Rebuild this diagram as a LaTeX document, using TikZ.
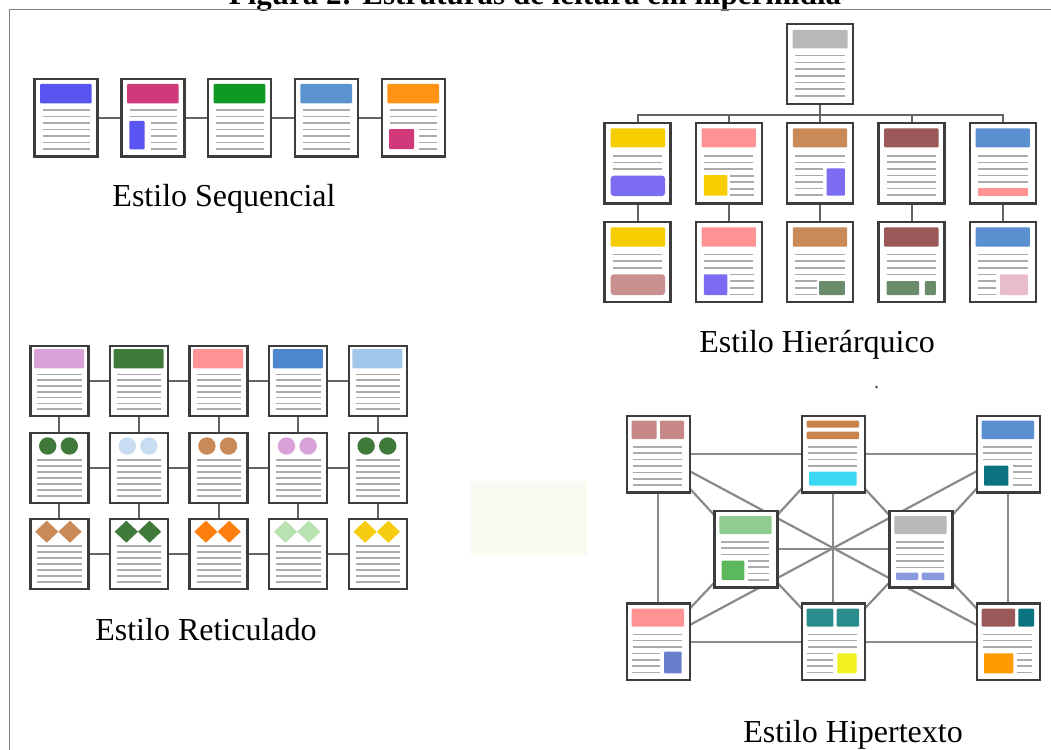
\documentclass[tikz,border=0pt]{standalone}
\usepackage{fontspec}
\setmainfont{Liberation Serif}
\usetikzlibrary{backgrounds}
\definecolor{boxc}{HTML}{3C3C3C}
\definecolor{tlc}{HTML}{ABABAB}
\definecolor{connc}{HTML}{646464}
\definecolor{xconnc}{HTML}{8A8A8A}
\definecolor{framec}{HTML}{7E7E7E}
\definecolor{sblue}{HTML}{5A55F0}
\definecolor{magen}{HTML}{D13A7A}
\definecolor{sgreen}{HTML}{0E9A22}
\definecolor{steel}{HTML}{5B93CF}
\definecolor{sorange}{HTML}{FF9414}
\definecolor{hgray}{HTML}{B8B8B8}
\definecolor{yel}{HTML}{F5CD00}
\definecolor{salm}{HTML}{FF9292}
\definecolor{tan}{HTML}{C98A58}
\definecolor{rosy}{HTML}{9A5858}
\definecolor{hblue}{HTML}{5A8FD0}
\definecolor{purp}{HTML}{7C6CF2}
\definecolor{mauve}{HTML}{C99090}
\definecolor{hgreen}{HTML}{6A8C6A}
\definecolor{pinklt}{HTML}{E8BCCC}
\definecolor{plum}{HTML}{D8A2D8}
\definecolor{dgreen}{HTML}{3F7A3B}
\definecolor{lblue}{HTML}{A0C6EA}
\definecolor{rblue}{HTML}{4E86CC}
\definecolor{cblue}{HTML}{C8DCF2}
\definecolor{orng}{HTML}{FF7F0E}
\definecolor{lgreen}{HTML}{B8E2B0}
\definecolor{gold}{HTML}{F5CC10}
\definecolor{rose}{HTML}{C98888}
\definecolor{brown}{HTML}{C8844A}
\definecolor{cyan2}{HTML}{3CD8F2}
\definecolor{teal2}{HTML}{0B7280}
\definecolor{lgrn}{HTML}{8FCC8F}
\definecolor{grn}{HTML}{5CB85C}
\definecolor{peri}{HTML}{8A9AE0}
\definecolor{blue2}{HTML}{6A7FCC}
\definecolor{teal3}{HTML}{2A8C8C}
\definecolor{yell}{HTML}{F2F220}
\definecolor{orange3}{HTML}{FF9A00}
\definecolor{faint}{HTML}{FAFAF3}
\newcommand\tls[5]{\foreach \k in {1,...,#4}{\draw[tline] (#1,{#3+(\k-1)*#5}) -- (#2,{#3+(\k-1)*#5});}}
\begin{document}
\begin{tikzpicture}[x=1pt,y=-1pt,
  pg/.style={draw=boxc, line width=2.4pt, fill=white, inner sep=0pt, outer sep=0pt, rectangle},
  seqpg/.style={pg, minimum width=63pt, minimum height=77pt},
  hpg/.style={pg, minimum width=66pt, minimum height=80pt},
  rpg/.style={pg, minimum width=58pt, minimum height=70pt},
  xpg/.style={pg, minimum width=63pt, minimum height=76.5pt},
  tline/.style={draw=tlc, line width=1.6pt},
  conn/.style={draw=connc, line width=2pt},
  xconn/.style={draw=xconnc, line width=2.2pt},
  lbl/.style={font=\fontsize{32}{38}\selectfont, inner sep=0pt, anchor=base},
  blk/.style={rounded corners=1pt}]
\useasboundingbox (0,0) rectangle (1051,749);
\begin{pgfonlayer}{background}
\fill[white] (0,0) rectangle (1051,749);
\fill[faint] (470,481) rectangle (587,555);
\end{pgfonlayer}
\fill[boxc] (876.5,387) circle (1.3);
% caption (clipped at top, as in the reference) and frame
\node[font=\bfseries\fontsize{31}{36}\selectfont, inner sep=0pt, anchor=base] (cap) at (535,5) {Figura 2: Estruturas de leitura em hipermídia};
\draw[draw=framec, line width=1.2pt] (1060,9.5) -- (9.5,9.5) -- (9.5,760);

% ---------- Sequencial ----------
\node[seqpg] (s1) at (65.8,117.8) {};
\node[seqpg] (s2) at (152.8,117.8) {};
\node[seqpg] (s3) at (239.5,117.8) {};
\node[seqpg] (s4) at (326.2,117.8) {};
\node[seqpg] (s5) at (413.2,117.8) {};
\begin{pgfonlayer}{background}
\draw[conn] (s1) -- (s2) (s2) -- (s3) (s3) -- (s4) (s4) -- (s5);
\end{pgfonlayer}
\begin{scope}[shift={(33.3,78.3)}]
\fill[sblue,blk] (6.7,5.7) rectangle (58.4,25);
\tls{9.4}{56.7}{31.7}{7}{6.5}
\end{scope}
\begin{scope}[shift={(120.3,78.3)}]
\fill[magen,blk] (6.7,5.7) rectangle (58.4,25);
\tls{9.4}{56.7}{31.7}{2}{6.5}
\fill[sblue,blk] (9,42.7) rectangle (24.3,71);
\tls{31}{56.7}{44.7}{5}{6.5}
\end{scope}
\begin{scope}[shift={(207,78.3)}]
\fill[sgreen,blk] (6.7,5.7) rectangle (58.4,25);
\tls{9.4}{56.7}{31.7}{7}{6.5}
\end{scope}
\begin{scope}[shift={(293.7,78.3)}]
\fill[steel,blk] (6.7,5.7) rectangle (58.4,25);
\tls{9.4}{56.7}{31.7}{7}{6.5}
\end{scope}
\begin{scope}[shift={(380.7,78.3)}]
\fill[sorange,blk] (6.7,5.7) rectangle (58.4,25);
\tls{9.4}{56.7}{31.7}{3}{6.5}
\fill[magen,blk] (8.3,50.7) rectangle (33.3,70.7);
\tls{38.3}{56}{51.2}{4}{6.5}
\end{scope}
\node[lbl] (ls) at (224,206) {Estilo Sequencial};

% ---------- Hierarquico ----------
\node[hpg] (ht) at (820,64.3) {};
\node[hpg] (h1) at (637.6,163.3) {};
\node[hpg] (h2) at (728.9,163.3) {};
\node[hpg] (h3) at (820.2,163.3) {};
\node[hpg] (h4) at (911.5,163.3) {};
\node[hpg] (h5) at (1002.8,163.3) {};
\node[hpg] (h1b) at (637.6,262) {};
\node[hpg] (h2b) at (728.9,262) {};
\node[hpg] (h3b) at (820.2,262) {};
\node[hpg] (h4b) at (911.5,262) {};
\node[hpg] (h5b) at (1002.8,262) {};
\coordinate (bus) at (820,115);
\begin{pgfonlayer}{background}
\foreach \n in {1,...,5}{
  \draw[conn] (ht.south) -- (bus) -| (h\n.north);
  \draw[conn] (h\n) -- (h\n b);
}
\end{pgfonlayer}
\begin{scope}[shift={(785.7,23.3)}]
\fill[hgray,blk] (7,6.7) rectangle (62,25);
\tls{9.3}{59.3}{32.4}{7}{6.7}
\end{scope}
\begin{scope}[shift={(603.3,122.3)}]
\fill[yel,blk] (7.4,6) rectangle (61.7,25);
\tls{10}{58.4}{33.4}{3}{6.65}
\fill[purp,rounded corners=3pt] (7.4,53.4) rectangle (61.7,73.7);
\end{scope}
\begin{scope}[shift={(694.6,122.3)}]
\fill[salm,blk] (7,6) rectangle (61.3,25);
\tls{9.3}{58.3}{33.4}{3}{6.65}
\fill[yel,blk] (9.3,52.7) rectangle (32.7,73.4);
\tls{35.5}{59}{53.4}{4}{6.5}
\end{scope}
\begin{scope}[shift={(785.9,122.3)}]
\fill[tan,blk] (7,6) rectangle (61.3,25);
\tls{9}{59}{33.4}{2}{6.65}
\tls{9}{37.3}{46.7}{5}{6.55}
\fill[purp,blk] (40.7,46) rectangle (59,73.4);
\end{scope}
\begin{scope}[shift={(877.2,122.3)}]
\fill[rosy,blk] (7,6) rectangle (61.3,25);
\tls{9.3}{58.5}{33.4}{7}{6.55}
\end{scope}
\begin{scope}[shift={(968.5,122.3)}]
\fill[hblue,blk] (7,6) rectangle (61.3,25);
\tls{9.4}{59.4}{33.4}{5}{6.6}
\fill[salm] (9.4,66) rectangle (59.4,73.4);
\end{scope}
\begin{scope}[shift={(603.3,221)}]
\fill[yel,blk] (7.4,6.3) rectangle (61.7,25.7);
\tls{10}{58.4}{33.3}{3}{6.7}
\fill[mauve,rounded corners=3pt] (7.4,53.3) rectangle (61.7,74);
\end{scope}
\begin{scope}[shift={(694.6,221)}]
\fill[salm,blk] (7,6.3) rectangle (61.3,25.7);
\tls{9.3}{58.3}{33.3}{3}{6.7}
\fill[purp,blk] (9.3,53.3) rectangle (32.7,74);
\tls{35.5}{59}{53.3}{4}{6.7}
\end{scope}
\begin{scope}[shift={(785.9,221)}]
\fill[tan,blk] (7,6.3) rectangle (61.3,25.7);
\tls{9}{59}{33.3}{4}{6.7}
\tls{9}{30.7}{60}{3}{6.7}
\fill[hgreen,blk] (33.3,60) rectangle (59,74);
\end{scope}
\begin{scope}[shift={(877.2,221)}]
\fill[rosy,blk] (7,6.3) rectangle (61.3,25.7);
\tls{9.3}{58.5}{33.3}{4}{6.7}
\fill[hgreen,blk] (9.4,60) rectangle (42,74);
\fill[hgreen,blk] (47.7,60) rectangle (58.7,74);
\end{scope}
\begin{scope}[shift={(968.5,221)}]
\fill[hblue,blk] (7,6.3) rectangle (61.3,25.7);
\tls{9.4}{59.4}{33.3}{3}{6.7}
\tls{9.4}{27.7}{53.3}{4}{6.7}
\fill[pinklt,blk] (31.7,53.3) rectangle (59.4,74);
\end{scope}
\node[lbl] (lh) at (817,352) {Estilo Hierárquico};

% ---------- Reticulado ----------
\foreach \i/\ca/\cb/\cc in {0/plum/dgreen/tan,1/dgreen/cblue/dgreen,2/salm/tan/orng,3/rblue/plum/lgreen,4/lblue/dgreen/gold}{
  \node[rpg] (ra\i) at ({59.3+79.6*\i},381) {};
  \node[rpg] (rb\i) at ({59.3+79.6*\i},467.7) {};
  \node[rpg] (rc\i) at ({59.3+79.6*\i},553.7) {};
  \begin{scope}[shift={({29.3+79.6*\i},345)}]
    \fill[\ca,blk] (4.7,4) rectangle (54.7,23.3);
    \tls{8}{52.4}{29.3}{7}{5.8}
  \end{scope}
  \begin{scope}[shift={({29.3+79.6*\i},431.7)}]
    \fill[\cb] (18.4,14.3) circle (8.7);
    \fill[\cb] (40,14.3) circle (8.7);
    \tls{8}{52.4}{28.3}{7}{6}
  \end{scope}
  \begin{scope}[shift={({29.3+79.6*\i},517.7)}]
    \fill[\cc] (17.4,3) -- (29,14) -- (17.4,25) -- (5.8,14) -- cycle;
    \fill[\cc] (40.7,3) -- (52.3,14) -- (40.7,25) -- (29.1,14) -- cycle;
    \tls{8}{52.4}{28.3}{7}{5.95}
  \end{scope}
}
\begin{pgfonlayer}{background}
\foreach \i in {0,...,4}{
  \draw[conn] (ra\i) -- (rb\i) (rb\i) -- (rc\i);
}
\foreach \i/\j in {0/1,1/2,2/3,3/4}{
  \draw[conn] (ra\i) -- (ra\j) (rb\i) -- (rb\j) (rc\i) -- (rc\j);
}
\end{pgfonlayer}
\node[lbl] (lr) at (206,640) {Estilo Reticulado};

% ---------- Hipertexto ----------
\node[xpg] (tl) at (658.2,454.3) {};
\node[xpg] (tm) at (833.2,454.3) {};
\node[xpg] (tr) at (1008.2,454.3) {};
\node[xpg] (ml) at (745.8,549.3) {};
\node[xpg] (mr) at (920.8,549.3) {};
\node[xpg] (bl) at (658.2,641.9) {};
\node[xpg] (bm) at (833.2,641.9) {};
\node[xpg] (br) at (1008.2,641.9) {};
\begin{pgfonlayer}{background}
\foreach \a/\b in {tl/tm,tm/tr,bl/bm,bm/br,tl/bl,tr/br,tm/bm,ml/mr,tl/ml,tm/ml,tm/mr,tr/mr,bl/ml,bm/ml,bm/mr,br/mr,tl/br,bl/tr}{
  \draw[xconn] (\a.center) -- (\b.center);
}
\end{pgfonlayer}
\begin{scope}[shift={(625.7,415)}]
\fill[rose,blk] (6,5.7) rectangle (31,24);
\fill[rose,blk] (34.3,5.7) rectangle (58.3,24);
\tls{7.6}{56}{31.7}{7}{6.4}
\end{scope}
\begin{scope}[shift={(800.7,415)}]
\fill[brown,blk] (6,5.7) rectangle (58.3,12.7);
\fill[brown,blk] (6,16.7) rectangle (58.3,24);
\tls{7.6}{56}{31.7}{4}{6.4}
\fill[cyan2,blk] (8.3,56.7) rectangle (56,70.7);
\end{scope}
\begin{scope}[shift={(975.7,415)}]
\fill[hblue,blk] (6,5.7) rectangle (58.3,24);
\tls{7.6}{56}{31.7}{3}{6.3}
\fill[teal2,blk] (8.3,50.7) rectangle (32.6,70.7);
\tls{37}{56}{50.7}{4}{6.4}
\end{scope}
\begin{scope}[shift={(713.3,510)}]
\fill[lgrn,blk] (6,6) rectangle (58.4,24);
\tls{7.6}{56}{31.7}{3}{6.3}
\fill[grn,blk] (8.4,50.7) rectangle (31,70);
\tls{35}{56}{50.7}{4}{6.4}
\end{scope}
\begin{scope}[shift={(888.3,510)}]
\fill[hgray,blk] (6,6) rectangle (58.4,24);
\tls{7.6}{56}{31.7}{5}{6.4}
\fill[peri,blk] (7.7,62.7) rectangle (30,70);
\fill[peri,blk] (33.4,62.7) rectangle (56,70);
\end{scope}
\begin{scope}[shift={(625.7,602.7)}]
\fill[salm,blk] (6,6) rectangle (58.3,24);
\tls{7.6}{56}{31.6}{3}{6.35}
\tls{6}{34.3}{50.6}{4}{6.45}
\fill[blue2,blk] (38.3,49) rectangle (56,70.6);
\end{scope}
\begin{scope}[shift={(800.7,602.7)}]
\fill[teal3,blk] (6,6) rectangle (32.6,24);
\fill[teal3,blk] (36,6) rectangle (58.3,24);
\tls{7.6}{56}{31.6}{3}{6.35}
\tls{6}{32.3}{50.6}{4}{6.45}
\fill[yell,blk] (36.6,50.6) rectangle (56,70.6);
\end{scope}
\begin{scope}[shift={(975.7,602.7)}]
\fill[rosy,blk] (6,6) rectangle (39.3,24);
\fill[teal2,blk] (42.6,6) rectangle (58.3,24);
\tls{7.6}{56}{31.6}{3}{6.35}
\fill[orange3,blk] (8.3,50.6) rectangle (37.6,70.6);
\tls{41}{56}{50.6}{4}{6.45}
\end{scope}
\node[lbl] (lx) at (853,742) {Estilo Hipertexto};
\end{tikzpicture}
\end{document}
